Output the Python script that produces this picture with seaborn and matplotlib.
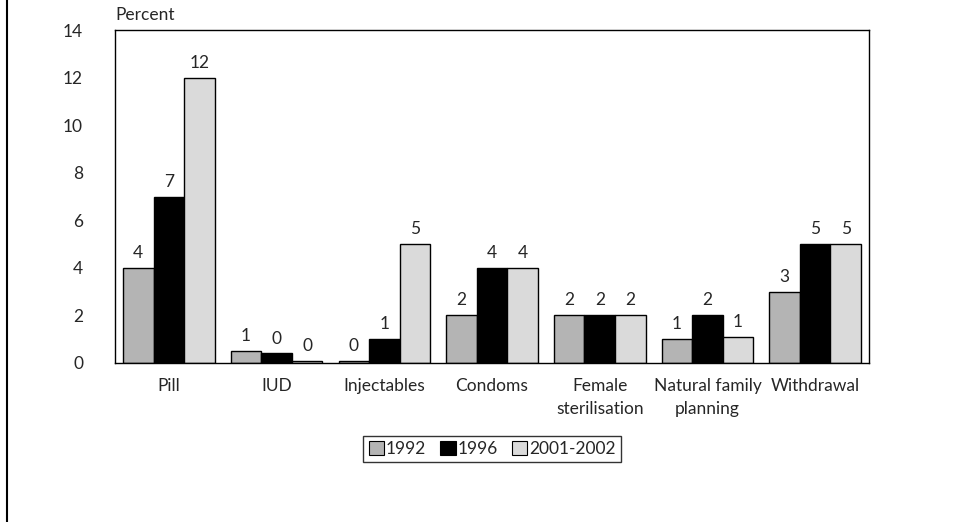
import matplotlib
matplotlib.use("Agg")
import matplotlib.pyplot as plt
from matplotlib.lines import Line2D
from matplotlib.patches import Patch
import seaborn as sns
import pandas as pd

sns.set_theme(style="white")
plt.rcParams["font.family"] = ["Lato", "DejaVu Sans"]

methods = ["Pill", "IUD", "Injectables", "Condoms", "Female\nsterilisation",
           "Natural family\nplanning", "Withdrawal"]
years = ["1992", "1996", "2001-2002"]
v1992 = [4.0, 0.5, 0.1, 2.0, 2.0, 1.0, 3.0]
v1996 = [7.0, 0.4, 1.0, 4.0, 2.0, 2.0, 5.0]
v2001 = [12.0, 0.1, 5.0, 4.0, 2.0, 1.1, 5.0]
labels1992 = ["4", "1", "0", "2", "2", "1", "3"]
labels1996 = ["7", "0", "1", "4", "2", "2", "5"]
labels2001 = ["12", "0", "5", "4", "2", "1", "5"]

colors = ["#b4b4b4", "#000000", "#dadada"]
fs = 12.5

df = pd.DataFrame({
    "Method": methods * 3,
    "Year": [y for y in years for _ in methods],
    "Percent": v1992 + v1996 + v2001,
})

fig = plt.figure(figsize=(9.54, 5.22), dpi=100)
ax = fig.add_axes([0.1205, 0.3046, 0.7905, 0.6379])

sns.barplot(data=df, x="Method", y="Percent", hue="Year", palette=colors,
            width=0.85, edgecolor="black", linewidth=1.0, ax=ax, legend=False,
            saturation=1)

for cont, labs in zip(ax.containers, [labels1992, labels1996, labels2001]):
    ax.bar_label(cont, labels=labs, padding=5, fontsize=fs)

ax.set_ylim(0, 14)
ax.set_yticks(range(0, 15, 2))
ax.set_xlabel("")
ax.set_ylabel("")
ax.tick_params(axis="both", length=0, labelsize=fs)
ax.tick_params(axis="x", pad=11)
ax.tick_params(axis="y", pad=23)
for t in ax.get_xticklabels():
    t.set_linespacing(1.55)
for s in ax.spines.values():
    s.set_color("black")
    s.set_linewidth(1.0)
ax.text(0.0, 1.02, "Percent", transform=ax.transAxes, fontsize=fs,
        ha="left", va="bottom")

handles = [Patch(facecolor=c, edgecolor="black", linewidth=0.8) for c in colors]
fig.legend(handles, years, loc="center", bbox_to_anchor=(492 / 954, 0.14),
           ncol=3, frameon=True, fancybox=False, edgecolor="black",
           fontsize=fs, handlelength=0.9, handleheight=0.9,
           handletextpad=0.1, columnspacing=0.8, borderpad=0.3)

fig.add_artist(Line2D([0.0075, 0.0075], [0, 1], color="black", linewidth=1.5))

fig.savefig("out.png", dpi=100, facecolor="white")
